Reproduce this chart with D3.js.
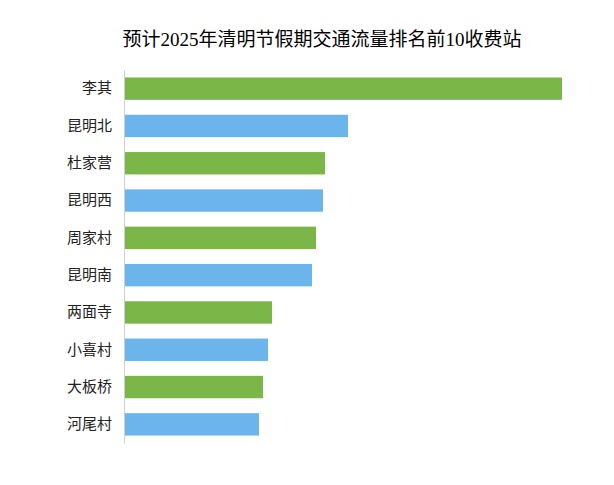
<!DOCTYPE html>
<html><head><meta charset="utf-8">
<script src="https://cdn.jsdelivr.net/npm/d3@7"></script>
<style>body{margin:0;background:#fff}</style>
</head><body><svg id="chart"></svg>
<script>
const stations = ["李其", "昆明北", "杜家营", "昆明西", "周家村", "昆明南", "两面寺", "小喜村", "大板桥", "河尾村"];
const flows = [438, 224, 201, 199, 192, 188, 148, 144, 139, 135];
const colors = ["#7ab648", "#6cb5ec"];

const svg = d3.select("#chart").attr("width", 614).attr("height", 485);
const margin = { left: 124, top: 70, right: 40, bottom: 42 };
const width = 614 - margin.left - margin.right;
const height = 485 - margin.top - margin.bottom;

svg.append("text")
  .attr("x", 322).attr("y", 46)
  .attr("text-anchor", "middle")
  .attr("font-family", "'Liberation Serif','Noto Sans CJK SC'")
  .attr("font-size", 19)
  .text("预计2025年清明节假期交通流量排名前10收费站");

const g = svg.append("g").attr("transform", `translate(${margin.left},${margin.top})`);

const x = d3.scaleLinear().domain([0, 450]).range([0, 450]);
const y = d3.scaleBand().domain(stations).range([0, height]).paddingInner(0.4).paddingOuter(0.2);

g.selectAll("rect").data(stations).join("rect")
  .attr("x", 0)
  .attr("y", d => y(d))
  .attr("width", (d, i) => x(flows[i]))
  .attr("height", y.bandwidth())
  .attr("fill", (d, i) => colors[i % 2]);

const axis = g.append("g").call(d3.axisLeft(y).tickSize(0).tickPadding(12));
axis.select(".domain").attr("stroke", "#d0d0d0");
axis.selectAll("text")
  .attr("font-family", "'Noto Sans CJK SC'")
  .attr("font-size", 15)
  .attr("fill", "#222");
</script></body></html>
